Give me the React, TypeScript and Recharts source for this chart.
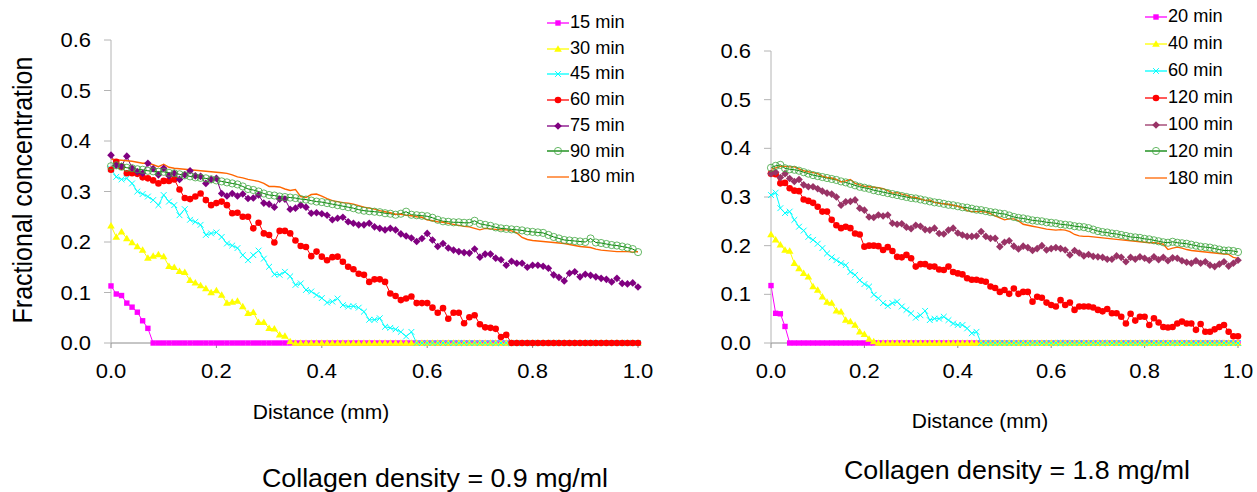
import React from 'react';
import { LineChart, Line, XAxis, YAxis } from 'recharts';

const FONT = '"Liberation Sans", Arial, Helvetica, sans-serif';

// Distance (mm) sampled along the gel
const distance = [
  0, 0.01, 0.02, 0.03, 0.04, 0.05, 0.06, 0.07, 0.08, 0.09,
  0.1, 0.11, 0.12, 0.13, 0.14, 0.15, 0.16, 0.17, 0.18, 0.19,
  0.2, 0.21, 0.22, 0.23, 0.24, 0.25, 0.26, 0.27, 0.28, 0.29,
  0.3, 0.31, 0.32, 0.33, 0.34, 0.35, 0.36, 0.37, 0.38, 0.39,
  0.4, 0.41, 0.42, 0.43, 0.44, 0.45, 0.46, 0.47, 0.48, 0.49,
  0.5, 0.51, 0.52, 0.53, 0.54, 0.55, 0.56, 0.57, 0.58, 0.59,
  0.6, 0.61, 0.62, 0.63, 0.64, 0.65, 0.66, 0.67, 0.68, 0.69,
  0.7, 0.71, 0.72, 0.73, 0.74, 0.75, 0.76, 0.77, 0.78, 0.79,
  0.8, 0.81, 0.82, 0.83, 0.84, 0.85, 0.86, 0.87, 0.88, 0.89,
  0.9, 0.91, 0.92, 0.93, 0.94, 0.95, 0.96, 0.97, 0.98, 0.99,
  1,
];

const xTicks = [0, 0.2, 0.4, 0.6, 0.8, 1.0];
const yTicks = [0, 0.1, 0.2, 0.3, 0.4, 0.5, 0.6];

// ---------- Collagen density = 0.9 mg/ml ----------
const left15 = [
  0.113, 0.097, 0.094, 0.079, 0.071, 0.061, 0.044, 0.029, 0, 0,
  0, 0, 0, 0, 0, 0, 0, 0, 0, 0,
  0, 0, 0, 0, 0, 0, 0, 0, 0, 0,
  0, 0, 0, 0, 0, 0, 0, 0, 0, 0,
  0, 0, 0, 0, 0, 0, 0, 0, 0, 0,
  0, 0, 0, 0, 0, 0, 0, 0, 0, 0,
  0, 0, 0, 0, 0, 0, 0, 0, 0, 0,
  0, 0, 0, 0, 0, 0, 0, 0, 0, 0,
  0, 0, 0, 0, 0, 0, 0, 0, 0, 0,
  0, 0, 0, 0, 0, 0, 0, 0, 0, 0,
  0,
];
const left30 = [
  0.232, 0.210, 0.220, 0.207, 0.199, 0.191, 0.184, 0.168, 0.172, 0.175,
  0.171, 0.152, 0.150, 0.142, 0.140, 0.124, 0.119, 0.114, 0.108, 0.100,
  0.104, 0.095, 0.079, 0.081, 0.083, 0.072, 0.059, 0.061, 0.041, 0.041,
  0.029, 0.028, 0.016, 0.014, 0.003, 0, 0, 0, 0, 0,
  0, 0, 0, 0, 0, 0, 0, 0, 0, 0,
  0, 0, 0, 0, 0, 0, 0, 0, 0, 0,
  0, 0, 0, 0, 0, 0, 0, 0, 0, 0,
  0, 0, 0, 0, 0, 0, 0, 0, 0, 0,
  0, 0, 0, 0, 0, 0, 0, 0, 0, 0,
  0, 0, 0, 0, 0, 0, 0, 0, 0, 0,
  0,
];
const left45 = [
  0.345, 0.329, 0.324, 0.326, 0.316, 0.300, 0.295, 0.290, 0.283, 0.273,
  0.293, 0.280, 0.273, 0.253, 0.265, 0.244, 0.240, 0.234, 0.214, 0.217,
  0.219, 0.210, 0.197, 0.193, 0.188, 0.174, 0.164, 0.174, 0.183, 0.167,
  0.151, 0.136, 0.135, 0.141, 0.132, 0.115, 0.118, 0.105, 0.102, 0.095,
  0.089, 0.080, 0.082, 0.088, 0.075, 0.072, 0.073, 0.070, 0.062, 0.046,
  0.046, 0.049, 0.032, 0.030, 0.027, 0.022, 0.013, 0.022, 0, 0,
  0, 0, 0, 0, 0, 0, 0, 0, 0, 0,
  0, 0, 0, 0, 0, 0, 0, 0, 0, 0,
  0, 0, 0, 0, 0, 0, 0, 0, 0, 0,
  0, 0, 0, 0, 0, 0, 0, 0, 0, 0,
  0,
];
const left60 = [
  0.343, 0.359, 0.349, 0.336, 0.336, 0.335, 0.328, 0.326, 0.322, 0.316,
  0.321, 0.321, 0.324, 0.304, 0.287, 0.285, 0.290, 0.296, 0.283, 0.273,
  0.277, 0.280, 0.273, 0.257, 0.258, 0.250, 0.250, 0.227, 0.238, 0.217,
  0.214, 0.199, 0.222, 0.222, 0.217, 0.203, 0.192, 0.190, 0.172, 0.181,
  0.171, 0.164, 0.170, 0.171, 0.161, 0.151, 0.146, 0.137, 0.135, 0.121,
  0.126, 0.126, 0.121, 0.098, 0.093, 0.085, 0.088, 0.092, 0.079, 0.079,
  0.079, 0.070, 0.060, 0.069, 0.048, 0.060, 0.060, 0.039, 0.051, 0.055,
  0.037, 0.031, 0.030, 0.028, 0.012, 0.016, 0, 0, 0, 0,
  0, 0, 0, 0, 0, 0, 0, 0, 0, 0,
  0, 0, 0, 0, 0, 0, 0, 0, 0, 0,
  0,
];
const left75 = [
  0.372, 0.352, 0.350, 0.370, 0.346, 0.339, 0.336, 0.356, 0.345, 0.333,
  0.346, 0.331, 0.336, 0.324, 0.333, 0.341, 0.331, 0.330, 0.316, 0.324,
  0.326, 0.296, 0.291, 0.296, 0.291, 0.295, 0.286, 0.287, 0.293, 0.277,
  0.275, 0.269, 0.285, 0.285, 0.265, 0.267, 0.273, 0.269, 0.257, 0.258,
  0.256, 0.253, 0.244, 0.247, 0.249, 0.240, 0.237, 0.234, 0.234, 0.237,
  0.230, 0.227, 0.224, 0.227, 0.224, 0.216, 0.212, 0.208, 0.201, 0.207,
  0.217, 0.204, 0.191, 0.197, 0.188, 0.184, 0.181, 0.179, 0.178, 0.186,
  0.170, 0.176, 0.176, 0.168, 0.165, 0.154, 0.162, 0.158, 0.158, 0.150,
  0.154, 0.154, 0.152, 0.148, 0.135, 0.130, 0.123, 0.138, 0.141, 0.131,
  0.136, 0.134, 0.131, 0.128, 0.126, 0.121, 0.128, 0.118, 0.117, 0.119,
  0.111,
];
const left90 = [
  0.350, 0.352, 0.349, 0.347, 0.346, 0.344, 0.343, 0.341, 0.340, 0.339,
  0.339, 0.337, 0.336, 0.334, 0.332, 0.330, 0.328, 0.327, 0.326, 0.324,
  0.322, 0.320, 0.318, 0.316, 0.314, 0.310, 0.305, 0.303, 0.300, 0.296,
  0.293, 0.292, 0.290, 0.289, 0.288, 0.287, 0.285, 0.284, 0.282, 0.280,
  0.279, 0.277, 0.275, 0.273, 0.271, 0.269, 0.267, 0.264, 0.262, 0.261,
  0.260, 0.259, 0.257, 0.256, 0.254, 0.256, 0.260, 0.254, 0.253, 0.252,
  0.251, 0.248, 0.244, 0.241, 0.240, 0.239, 0.239, 0.238, 0.238, 0.242,
  0.236, 0.234, 0.232, 0.229, 0.227, 0.226, 0.225, 0.224, 0.223, 0.221,
  0.220, 0.219, 0.218, 0.214, 0.210, 0.207, 0.204, 0.203, 0.202, 0.201,
  0.200, 0.207, 0.199, 0.198, 0.196, 0.194, 0.193, 0.191, 0.189, 0.186,
  0.180,
];
const left180 = [
  0.364, 0.363, 0.362, 0.361, 0.360, 0.358, 0.356, 0.356, 0.353, 0.349,
  0.354, 0.348, 0.346, 0.345, 0.344, 0.343, 0.342, 0.341, 0.340, 0.339,
  0.338, 0.337, 0.336, 0.333, 0.329, 0.327, 0.324, 0.322, 0.320, 0.316,
  0.310, 0.310, 0.309, 0.305, 0.302, 0.304, 0.290, 0.288, 0.294, 0.295,
  0.291, 0.286, 0.282, 0.280, 0.278, 0.277, 0.275, 0.272, 0.269, 0.267,
  0.265, 0.262, 0.260, 0.258, 0.255, 0.255, 0.253, 0.252, 0.250, 0.249,
  0.244, 0.242, 0.240, 0.239, 0.237, 0.235, 0.233, 0.231, 0.230, 0.227,
  0.224, 0.227, 0.226, 0.225, 0.224, 0.224, 0.222, 0.218, 0.209, 0.205,
  0.203, 0.202, 0.201, 0.200, 0.199, 0.198, 0.197, 0.195, 0.193, 0.191,
  0.190, 0.189, 0.186, 0.184, 0.183, 0.182, 0.181, 0.181, 0.181, 0.180,
  0.181,
];

// ---------- Collagen density = 1.8 mg/ml ----------
const right20 = [
  0.118, 0.061, 0.060, 0.034, 0, 0, 0, 0, 0, 0,
  0, 0, 0, 0, 0, 0, 0, 0, 0, 0,
  0, 0, 0, 0, 0, 0, 0, 0, 0, 0,
  0, 0, 0, 0, 0, 0, 0, 0, 0, 0,
  0, 0, 0, 0, 0, 0, 0, 0, 0, 0,
  0, 0, 0, 0, 0, 0, 0, 0, 0, 0,
  0, 0, 0, 0, 0, 0, 0, 0, 0, 0,
  0, 0, 0, 0, 0, 0, 0, 0, 0, 0,
  0, 0, 0, 0, 0, 0, 0, 0, 0, 0,
  0, 0, 0, 0, 0, 0, 0, 0, 0, 0,
  0,
];
const right40 = [
  0.223, 0.212, 0.202, 0.191, 0.189, 0.164, 0.153, 0.143, 0.136, 0.116,
  0.109, 0.095, 0.084, 0.082, 0.066, 0.064, 0.047, 0.044, 0.037, 0.023,
  0.018, 0.008, 0.003, 0, 0, 0, 0, 0, 0, 0,
  0, 0, 0, 0, 0, 0, 0, 0, 0, 0,
  0, 0, 0, 0, 0, 0, 0, 0, 0, 0,
  0, 0, 0, 0, 0, 0, 0, 0, 0, 0,
  0, 0, 0, 0, 0, 0, 0, 0, 0, 0,
  0, 0, 0, 0, 0, 0, 0, 0, 0, 0,
  0, 0, 0, 0, 0, 0, 0, 0, 0, 0,
  0, 0, 0, 0, 0, 0, 0, 0, 0, 0,
  0,
];
const right60 = [
  0.304, 0.309, 0.277, 0.267, 0.270, 0.253, 0.239, 0.231, 0.218, 0.212,
  0.204, 0.195, 0.184, 0.176, 0.170, 0.164, 0.160, 0.146, 0.140, 0.129,
  0.121, 0.116, 0.099, 0.092, 0.082, 0.076, 0.082, 0.085, 0.075, 0.068,
  0.061, 0.052, 0.057, 0.066, 0.047, 0.050, 0.050, 0.054, 0.047, 0.040,
  0.037, 0.037, 0.030, 0.020, 0.023, 0, 0, 0, 0, 0,
  0, 0, 0, 0, 0, 0, 0, 0, 0, 0,
  0, 0, 0, 0, 0, 0, 0, 0, 0, 0,
  0, 0, 0, 0, 0, 0, 0, 0, 0, 0,
  0, 0, 0, 0, 0, 0, 0, 0, 0, 0,
  0, 0, 0, 0, 0, 0, 0, 0, 0, 0,
  0,
];
const right120a = [
  0.348, 0.347, 0.328, 0.329, 0.318, 0.313, 0.312, 0.295, 0.292, 0.288,
  0.280, 0.270, 0.270, 0.253, 0.242, 0.236, 0.239, 0.236, 0.225, 0.223,
  0.198, 0.200, 0.200, 0.199, 0.191, 0.197, 0.189, 0.177, 0.176, 0.181,
  0.174, 0.157, 0.162, 0.162, 0.157, 0.157, 0.151, 0.150, 0.157, 0.146,
  0.143, 0.141, 0.133, 0.130, 0.130, 0.128, 0.126, 0.116, 0.113, 0.105,
  0.109, 0.101, 0.112, 0.101, 0.105, 0.105, 0.085, 0.095, 0.093, 0.083,
  0.078, 0.075, 0.088, 0.078, 0.083, 0.068, 0.075, 0.075, 0.075, 0.073,
  0.068, 0.065, 0.070, 0.061, 0.061, 0.054, 0.040, 0.060, 0.046, 0.054,
  0.054, 0.037, 0.051, 0.042, 0.033, 0.032, 0.033, 0.040, 0.044, 0.040,
  0.040, 0.027, 0.039, 0.023, 0.023, 0.028, 0.033, 0.037, 0.023, 0.014,
  0.014,
];
const right100 = [
  0.348, 0.351, 0.340, 0.348, 0.338, 0.332, 0.336, 0.325, 0.321, 0.321,
  0.317, 0.312, 0.308, 0.306, 0.300, 0.283, 0.290, 0.291, 0.294, 0.277,
  0.273, 0.259, 0.258, 0.263, 0.261, 0.263, 0.246, 0.244, 0.245, 0.238,
  0.235, 0.242, 0.240, 0.233, 0.232, 0.236, 0.225, 0.224, 0.232, 0.236,
  0.226, 0.222, 0.219, 0.219, 0.220, 0.229, 0.219, 0.215, 0.215, 0.198,
  0.207, 0.210, 0.199, 0.193, 0.199, 0.196, 0.190, 0.194, 0.200, 0.191,
  0.194, 0.196, 0.194, 0.191, 0.181, 0.190, 0.185, 0.179, 0.182, 0.178,
  0.177, 0.176, 0.172, 0.172, 0.179, 0.176, 0.167, 0.176, 0.172, 0.177,
  0.174, 0.170, 0.177, 0.171, 0.176, 0.169, 0.175, 0.174, 0.169, 0.166,
  0.164, 0.169, 0.164, 0.167, 0.160, 0.157, 0.162, 0.167, 0.158, 0.164,
  0.170,
];
const right120b = [
  0.360, 0.364, 0.366, 0.359, 0.357, 0.356, 0.354, 0.351, 0.348, 0.345,
  0.343, 0.341, 0.339, 0.337, 0.335, 0.332, 0.330, 0.327, 0.324, 0.321,
  0.319, 0.317, 0.314, 0.312, 0.310, 0.308, 0.306, 0.304, 0.302, 0.300,
  0.298, 0.297, 0.295, 0.293, 0.291, 0.289, 0.288, 0.286, 0.284, 0.283,
  0.281, 0.279, 0.278, 0.276, 0.274, 0.273, 0.271, 0.269, 0.268, 0.266,
  0.265, 0.262, 0.259, 0.257, 0.256, 0.254, 0.252, 0.251, 0.250, 0.248,
  0.247, 0.246, 0.244, 0.243, 0.242, 0.240, 0.239, 0.238, 0.236, 0.233,
  0.230, 0.228, 0.227, 0.225, 0.224, 0.222, 0.220, 0.218, 0.217, 0.216,
  0.214, 0.213, 0.211, 0.209, 0.207, 0.206, 0.208, 0.206, 0.205, 0.204,
  0.202, 0.200, 0.198, 0.197, 0.196, 0.194, 0.192, 0.190, 0.190, 0.189,
  0.187,
];
const right180 = [
  0.357, 0.360, 0.363, 0.363, 0.362, 0.362, 0.358, 0.354, 0.352, 0.350,
  0.348, 0.343, 0.340, 0.339, 0.336, 0.331, 0.333, 0.336, 0.328, 0.325,
  0.322, 0.321, 0.320, 0.319, 0.317, 0.313, 0.308, 0.309, 0.306, 0.304,
  0.300, 0.299, 0.296, 0.293, 0.294, 0.289, 0.287, 0.286, 0.285, 0.283,
  0.281, 0.278, 0.272, 0.270, 0.270, 0.270, 0.269, 0.266, 0.261, 0.257,
  0.253, 0.255, 0.255, 0.251, 0.244, 0.242, 0.240, 0.238, 0.236, 0.234,
  0.233, 0.232, 0.233, 0.232, 0.229, 0.223, 0.220, 0.219, 0.219, 0.218,
  0.217, 0.216, 0.215, 0.214, 0.213, 0.212, 0.211, 0.210, 0.209, 0.208,
  0.207, 0.206, 0.206, 0.205, 0.203, 0.192, 0.195, 0.197, 0.195, 0.192,
  0.190, 0.189, 0.188, 0.187, 0.186, 0.185, 0.184, 0.183, 0.182, 0.176,
  0.174,
];

type Marker = 'square' | 'triangle' | 'cross' | 'circle' | 'diamond' | 'ring' | 'none';
interface Series { key: string; name: string; color: string; marker: Marker; values: number[] }

const leftSeries: Series[] = [
  { key: 's15', name: '15 min', color: '#FF00FF', marker: 'square', values: left15 },
  { key: 's30', name: '30 min', color: '#FFFF00', marker: 'triangle', values: left30 },
  { key: 's45', name: '45 min', color: '#00FFFF', marker: 'cross', values: left45 },
  { key: 's60', name: '60 min', color: '#FF0000', marker: 'circle', values: left60 },
  { key: 's75', name: '75 min', color: '#800080', marker: 'diamond', values: left75 },
  { key: 's90', name: '90 min', color: '#008000', marker: 'ring', values: left90 },
  { key: 's180', name: '180 min', color: '#FF6600', marker: 'none', values: left180 },
];
const rightSeries: Series[] = [
  { key: 's20', name: '20 min', color: '#FF00FF', marker: 'square', values: right20 },
  { key: 's40', name: '40 min', color: '#FFFF00', marker: 'triangle', values: right40 },
  { key: 's60', name: '60 min', color: '#00FFFF', marker: 'cross', values: right60 },
  { key: 's120a', name: '120 min', color: '#FF0000', marker: 'circle', values: right120a },
  { key: 's100', name: '100 min', color: '#993366', marker: 'diamond', values: right100 },
  { key: 's120b', name: '120 min', color: '#008000', marker: 'ring', values: right120b },
  { key: 's180', name: '180 min', color: '#FF6600', marker: 'none', values: right180 },
];

const buildRows = (series: Series[]) =>
  distance.map((d, i) => {
    const row: Record<string, number> = { d };
    series.forEach((s) => { row[s.key] = s.values[i]; });
    return row;
  });

function renderMarker(kind: Marker, color: string, cx: number, cy: number, key: string) {
  if (cx == null || cy == null || isNaN(cx) || isNaN(cy)) return <g key={key} />;
  switch (kind) {
    case 'square':
      return <rect key={key} x={cx - 2.7} y={cy - 2.7} width={5.4} height={5.4} fill={color} />;
    case 'triangle':
      return <polygon key={key} points={`${cx},${cy - 3.8} ${cx + 3.8},${cy + 2.7} ${cx - 3.8},${cy + 2.7}`} fill={color} />;
    case 'cross':
      return (
        <path key={key} d={`M${cx - 2.9},${cy - 2.9}L${cx + 2.9},${cy + 2.9}M${cx + 2.9},${cy - 2.9}L${cx - 2.9},${cy + 2.9}`}
          stroke={color} strokeWidth={1} fill="none" />
      );
    case 'circle':
      return <circle key={key} cx={cx} cy={cy} r={3.3} fill={color} />;
    case 'diamond':
      return <polygon key={key} points={`${cx},${cy - 3.8} ${cx + 3.8},${cy} ${cx},${cy + 3.8} ${cx - 3.8},${cy}`} fill={color} />;
    case 'ring':
      return <circle key={key} cx={cx} cy={cy} r={3.6} fill="none" stroke="#3fa63f" strokeWidth={0.8} />;
    default:
      return <g key={key} />;
  }
}

const YTick = (props: any) => {
  const { x, y, payload } = props;
  return (
    <g transform={`translate(${x},${y})`}>
      <text transform="scale(1.1,1)" textAnchor="end" dominantBaseline="central" fontSize={20} fill="#000" fontFamily={FONT}>
        {Number(payload.value).toFixed(1)}
      </text>
    </g>
  );
};

const XTick = (props: any) => {
  const { x, y, payload } = props;
  return (
    <g transform={`translate(${x},${y})`}>
      <text transform="scale(1.1,1)" y={23} textAnchor="middle" dominantBaseline="central" fontSize={20} fill="#000" fontFamily={FONT}>
        {Number(payload.value).toFixed(1)}
      </text>
    </g>
  );
};

function Panel({ series, width, height, margin }: { series: Series[]; width: number; height: number; margin: any }) {
  const rows = buildRows(series);
  return (
    <LineChart width={width} height={height} data={rows} margin={margin}>
      <XAxis
        dataKey="d" type="number" domain={[0, 1]} ticks={xTicks} height={30}
        axisLine={{ stroke: '#8c8c8c' }} tickLine={{ stroke: '#8c8c8c' }} tickSize={5} tickMargin={0}
        tick={<XTick />} interval={0}
      />
      <YAxis
        type="number" domain={[0, 0.6]} ticks={yTicks} width={111}
        axisLine={{ stroke: '#b4b4b4' }} tickLine={{ stroke: '#b4b4b4' }} tickSize={7} tickMargin={13}
        tick={<YTick />} interval={0}
      />
      {series.map((s) => (
        <Line
          key={s.key}
          dataKey={s.key}
          name={s.name}
          type="linear"
          stroke={s.color}
          strokeWidth={s.marker === 'none' ? 1.4 : 1}
          isAnimationActive={false}
          activeDot={false}
          dot={s.marker === 'none' ? false : (p: any) => renderMarker(s.marker, s.color, p.cx, p.cy, `${s.key}-${p.index}`)}
        />
      ))}
    </LineChart>
  );
}

function LegendBox({ items, left, top, rowH }: { items: Series[]; left: number; top: number; rowH: number }) {
  return (
    <div style={{ position: 'absolute', left, top, fontFamily: FONT, fontSize: 17.5, color: '#000' }}>
      {items.map((s) => (
        <div key={s.key} style={{ display: 'flex', alignItems: 'center', height: rowH, whiteSpace: 'nowrap' }}>
          <svg width={22} height={12} style={{ display: 'block' }}>
            <line x1={0} y1={6} x2={22} y2={6} stroke={s.color} strokeWidth={1.3} />
            {renderMarker(s.marker, s.color, 11, 6, 'lg')}
          </svg>
          <span style={{ marginLeft: 1, lineHeight: 1, display: 'inline-block', transform: 'scaleX(1.04)', transformOrigin: 'left center' }}>{s.name}</span>
        </div>
      ))}
    </div>
  );
}

function Txt({ x, y, size, children, rotate = false, sx = 1 }: any) {
  const t = rotate
    ? `translate(-50%,-50%) rotate(-90deg) scaleY(${sx})`
    : `translate(-50%,-50%) scaleX(${sx})`;
  return (
    <div style={{ position: 'absolute', left: x, top: y, transform: t, whiteSpace: 'nowrap', fontSize: size, lineHeight: 1, fontFamily: FONT, color: '#000' }}>
      {children}
    </div>
  );
}

export default function App() {
  return (
    <div style={{ position: 'absolute', left: 0, top: 0, width: 1257, height: 492, background: '#fff', overflow: 'hidden', fontFamily: FONT }}>
      <div style={{ position: 'absolute', left: 0, top: 0 }}>
        <Panel series={leftSeries} width={660} height={400} margin={{ top: 40, right: 22, bottom: 27, left: 0 }} />
      </div>
      <div style={{ position: 'absolute', left: 660, top: 0 }}>
        <Panel series={rightSeries} width={597} height={400} margin={{ top: 51, right: 19, bottom: 27, left: 0 }} />
      </div>

      <Txt x={23} y={190} size={25} rotate sx={1.08}>Fractional concentration</Txt>
      <Txt x={321} y={411} size={21}>Distance (mm)</Txt>
      <Txt x={980} y={420} size={21}>Distance (mm)</Txt>
      <Txt x={435} y={478} size={26} sx={1.03}>Collagen density = 0.9 mg/ml</Txt>
      <Txt x={1017} y={470} size={26} sx={1.03}>Collagen density = 1.8 mg/ml</Txt>

      <LegendBox items={leftSeries} left={547} top={10} rowH={25.7} />
      <LegendBox items={rightSeries} left={1145} top={3.5} rowH={26.9} />
    </div>
  );
}
